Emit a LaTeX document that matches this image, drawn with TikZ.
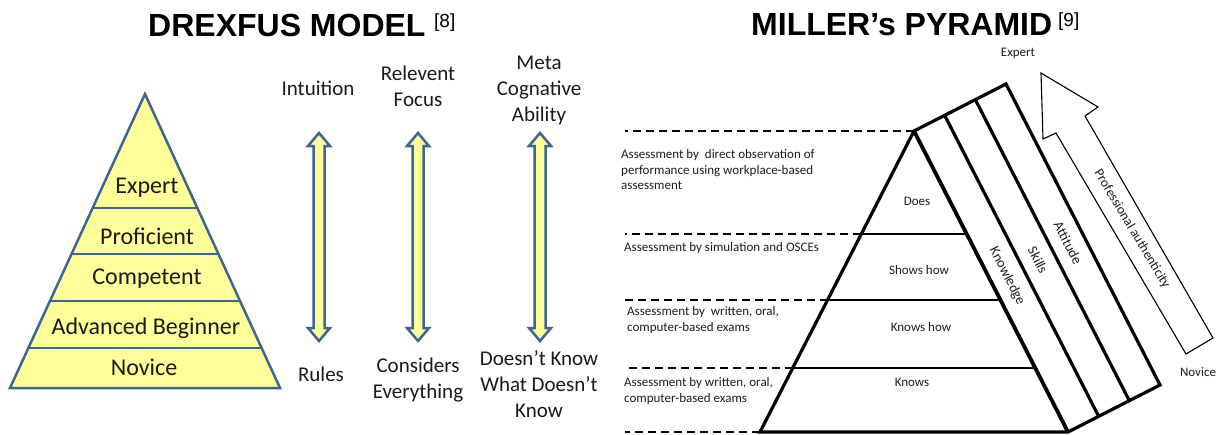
\documentclass[tikz,border=0pt]{standalone}
\usepackage{fontspec}
\usetikzlibrary{calc}
\newfontfamily\calfont{Carlito}
\newfontfamily\arialfont{Liberation Sans}
\definecolor{dblue}{HTML}{3F6597}
\definecolor{lyellow}{HTML}{FFFF99}
\definecolor{txt}{HTML}{1A1A1A}
\definecolor{mtxt}{HTML}{1E1E1E}
\tikzset{
  titlefont/.style={anchor=base west, inner sep=0pt, font=\arialfont\bfseries\fontsize{32}{32}\selectfont},
  reffont/.style={anchor=base west, inner sep=0pt, font=\arialfont\fontsize{19}{19}\selectfont},
  layerlbl/.style={inner sep=0pt, text=txt, font=\calfont\fontsize{24}{28}\selectfont},
  scalelbl/.style={inner sep=0pt, text=txt, align=center, font=\calfont\fontsize{21}{26}\selectfont},
  dbarrow/.style={draw=dblue, fill=lyellow, line width=2.5pt, line join=miter},
  dlayer/.style={draw=dblue, line width=2.5pt},
  mlbl/.style={inner sep=0pt, text=mtxt, font=\calfont\fontsize{13}{15.5}\selectfont},
  asslbl/.style={mlbl, anchor=west, align=left},
  bandlbl/.style={inner sep=0pt, text=mtxt, rotate=-63, font=\calfont\fontsize{14}{16}\selectfont},
  thick3/.style={line width=3.2pt, line join=miter},
  thinline/.style={line width=1.1pt},
  dashline/.style={line width=1.6pt, dash pattern=on 8pt off 5pt},
}
\begin{document}
\begin{tikzpicture}[x=1pt,y=-1pt]
\useasboundingbox (0,0) rectangle (1221,434);
\fill[white] (0,0) rectangle (1221,434);

% ---------------- Titles ----------------
\node[titlefont] (t1) at (148,36) {DREXFUS MODEL};
\node[reffont] (r1) at (434,27) {[8]};
\node[titlefont] (t2) at (751,35) {MILLER’s PYRAMID};
\node[reffont] (r2) at (1058,26) {[9]};

% ---------------- Dreyfus pyramid ----------------
\coordinate (dA) at (145,94);
\coordinate (dL) at (10,388);
\coordinate (dR) at (280,388);
\filldraw[fill=lyellow, draw=dblue, line width=2.5pt, line join=miter] (dA) -- (dR) -- (dL) -- cycle;
\foreach \t in {0.3878,0.5442,0.7041,0.8639}{
  \draw[dlayer] ($(dA)!\t!(dL)$) -- ($(dA)!\t!(dR)$);
}
\node[layerlbl] (dexp) at (147,188) {Expert};
\node[layerlbl] (dpro) at (147,236) {Proficient};
\node[layerlbl] (dcom) at (147,279) {Competent};
\node[layerlbl] (dadv) at (146,328) {Advanced Beginner};
\node[layerlbl] (dnov) at (144,367) {Novice};

% ---------------- Dreyfus double arrows ----------------
\foreach \x in {319,418,540}{
  \draw[dbarrow] (\x,133) -- (\x+11,146) -- (\x+5.5,146) -- (\x+5.5,328) -- (\x+11,328)
     -- (\x,341) -- (\x-11,328) -- (\x-5.5,328) -- (\x-5.5,146) -- (\x-11,146) -- cycle;
}
\node[scalelbl] (intu) at (318,88) {Intuition};
\node[scalelbl] (relf) at (418,86) {Relevent\\Focus};
\node[scalelbl] (meta) at (539,90) {Meta\\Cognative\\Ability};
\node[scalelbl] (rules) at (321,374) {Rules};
\node[scalelbl] (cons) at (418,380) {Considers\\Everything};
\node[scalelbl] (dkn) at (539,384) {Doesn’t Know\\What Doesn’t\\Know};

% ---------------- Miller pyramid ----------------
\coordinate (mA) at (914,131);
\coordinate (mL) at (760,432);
\coordinate (mR) at (1068,432);
\coordinate (dx) at (625,0);

% layer lines
\foreach \t/\n in {0.3422/1,0.5615/2,0.7874/3}{
  \coordinate (ml\n) at ($(mA)!\t!(mL)$);
  \coordinate (mr\n) at ($(mA)!\t!(mR)$);
  \draw[thinline] (ml\n) -- (mr\n);
  \draw[dashline] (ml\n) -- (ml\n -| dx);
}
\draw[dashline] (mA) -- (mA -| dx);
\draw[dashline] (mL) -- (mL -| dx);

% bands
\coordinate (bA1) at ($(mA)+(30.67,-15.67)$);
\coordinate (bR1) at ($(mR)+(30.67,-15.67)$);
\coordinate (bA2) at ($(mA)+(61.33,-31.33)$);
\coordinate (bR2) at ($(mR)+(61.33,-31.33)$);
\coordinate (bA3) at ($(mA)+(92,-47)$);
\coordinate (bR3) at ($(mR)+(92,-47)$);
\draw[thick3] (mL) -- (mA) -- (bA3) -- (bR3) -- (mR) -- cycle;
\draw[line width=3.8pt] (mA) -- (mR);
\draw[thick3] (bA1) -- (bR1);
\draw[thick3] (bA2) -- (bR2);

\node[mlbl] (does) at (917,201) {Does};
\node[mlbl] (shows) at (919,270) {Shows how};
\node[mlbl] (kh) at (921,327) {Knows how};
\node[mlbl] (kn) at (912,382) {Knows};

\node[bandlbl] (know) at (1007,276) {Knowledge};
\node[bandlbl] (skil) at (1038,260) {Skills};
\node[bandlbl] (atti) at (1068,243) {Attitude};

% assessment texts
\node[asslbl] (as1) at (621,170) {Assessment by\ \ direct observation of\\performance using workplace-based\\assessment};
\node[asslbl] (as2) at (624,248) {Assessment by simulation and OSCEs};
\node[asslbl] (as3) at (627,320) {Assessment by\ \ written, oral,\\computer-based exams};
\node[asslbl] (as4) at (624,391) {Assessment by written, oral,\\computer-based exams};

% professional authenticity arrow
\coordinate (pt) at (1041,73);
\coordinate (phl) at (1043,139);
\coordinate (psl) at (1056,133);
\coordinate (pbl) at (1186,354);
\coordinate (pbr) at (1213,338);
\coordinate (psr) at (1085,116);
\coordinate (phr) at (1098,107);
\draw[line width=1.1pt, line join=miter, fill=white] (pt) -- (phl) -- (psl) -- (pbl) -- (pbr) -- (psr) -- (phr) -- cycle;
\node[inner sep=0pt, text=mtxt, rotate=-59, font=\calfont\fontsize{13.5}{16}\selectfont] (prof) at (1132,229) {Professional authenticity};

\node[mlbl] (mexp) at (1018,53) {Expert};
\node[mlbl] (mnov) at (1198,372) {Novice};
\end{tikzpicture}
\end{document}
